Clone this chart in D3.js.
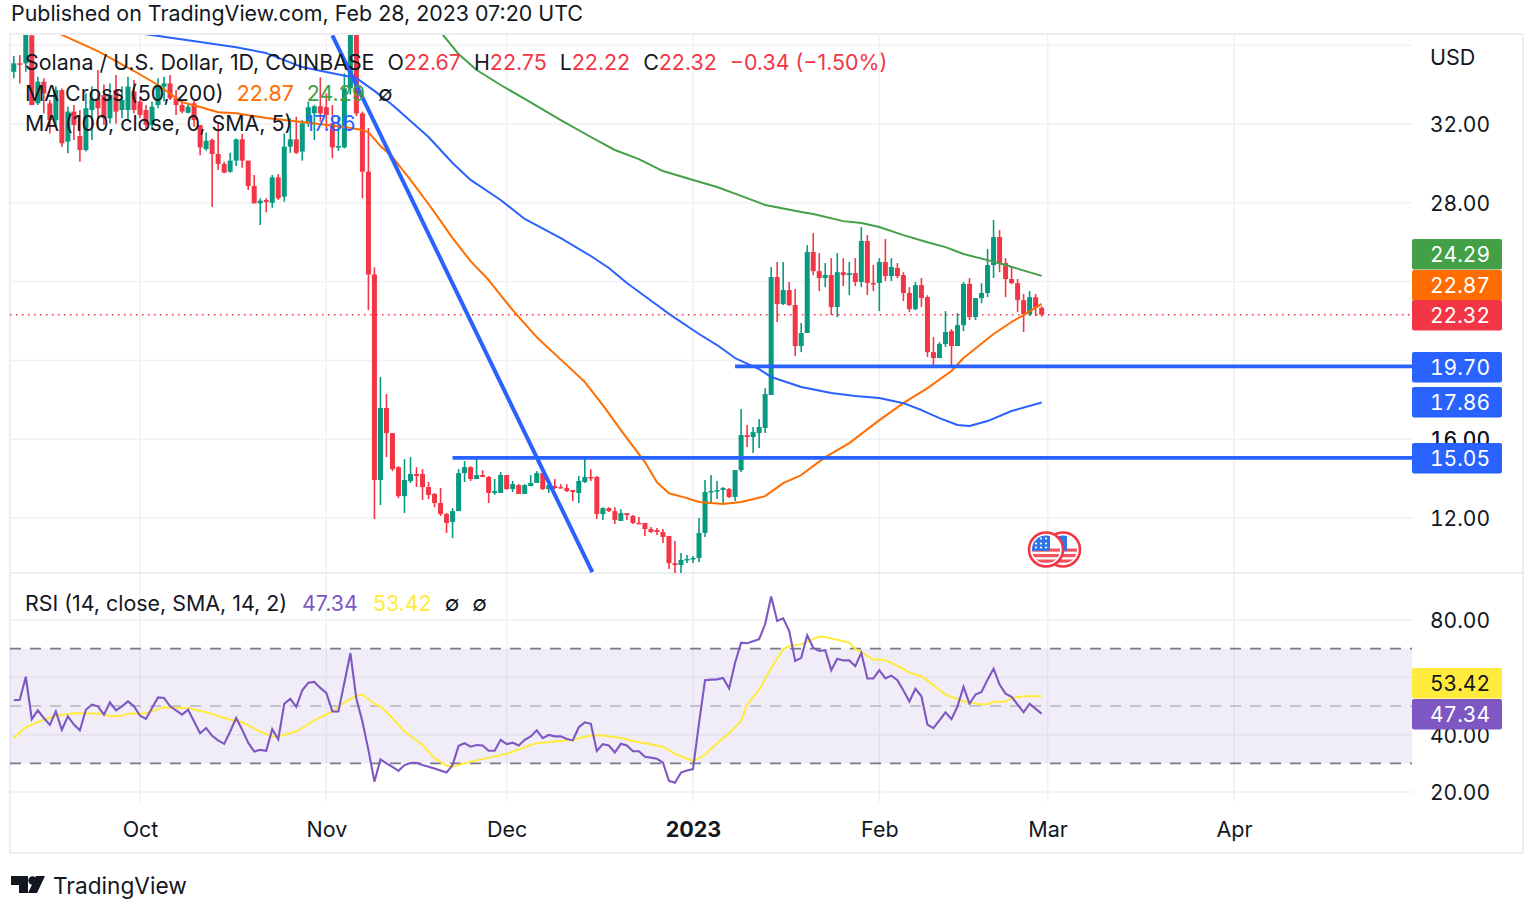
<!DOCTYPE html>
<html><head><meta charset="utf-8">
<script src="https://cdn.jsdelivr.net/npm/d3@7/dist/d3.min.js"></script>
<style>
html,body{margin:0;padding:0;background:#fff;overflow:hidden}
text{font-family:Inter,"Noto Sans",sans-serif}
.tnum{font-variant-numeric:tabular-nums}
</style></head><body>
<svg id="c" width="1536" height="904"></svg>
<script>
const firstDay = "2022-09-10";
const opens = [
34.65,35.08,35.08,36.5,33.05,34.15,33.05,32.2,33.72,31.1,32.63,31.39,30.68,32.71,33.3,33.47,32.29,33.72,32.71,32.71,33.65,
33.14,32.71,31.95,32.96,33.9,34.06,33.3,32.96,32.57,33.05,31.95,30.73,31.19,30.48,29.97,29.58,30.14,31.22,30.14,28.85,27.97,28.14,28.0,29.29,28.31,30.85,31.22,30.6,32.03,32.54,32.9,
32.85,32.03,30.81,30.81,33.81,36.6,32.54,29.58,24.36,13.93,17.58,16.31,14.58,13.11,13.88,14.23,14.23,13.57,13.22,12.76,12.2,11.8,12.35,14.28,14.58,13.98,14.18,14.08,13.27,13.27,
14.18,13.47,13.67,13.22,13.62,13.78,14.28,13.47,13.62,13.57,13.52,13.42,13.27,13.83,14.08,14.08,12.2,12.5,12.35,11.85,12.25,12.1,11.75,11.75,11.44,11.39,11.29,11.09,9.71,9.61,9.87,
9.92,9.97,11.24,13.32,13.37,13.42,13.47,13.07,14.43,16.21,16.11,16.31,16.57,18.24,24.23,22.86,23.57,22.81,20.73,21.39,25.5,24.53,24.18,24.33,22.71,24.48,24.33,24.43,23.98,26.06,23.93,
23.93,24.99,24.28,24.69,24.33,23.42,22.6,23.82,23.21,20.42,20.12,20.83,21.49,20.73,21.79,23.88,22.2,23.16,23.42,24.84,26.26,24.94,24.13,23.92,23.06,22.35,23.21,22.67];
const highs = [
35.45,35.5,37.1,37.1,34.4,34.32,33.22,33.9,33.8,32.88,32.96,32.71,33.55,33.9,34.74,34,34.06,34.49,33.9,34.4,34.23,
33.39,32.96,33.14,34.32,34.4,34.49,33.72,33.14,33.0,33.18,31.95,31.56,31.27,32.03,30.09,30.54,31.27,31.49,30.14,29.41,28.23,28.23,29.41,29.46,31.52,32.29,32.37,32.2,33.14,32.96,34.37,
33.55,32.96,32.37,34.57,37.5,37.5,32.63,31.8,24.72,19.15,18.29,16.31,14.63,14.99,15.09,14.58,14.48,13.83,13.27,13.52,12.25,12.5,14.48,14.89,14.63,14.99,14.43,14.13,13.98,14.33,
14.18,13.88,13.72,13.72,14.18,14.38,14.33,13.78,13.98,13.72,13.72,13.42,14.13,14.99,14.48,14.13,12.55,12.55,12.55,12.45,12.25,12.15,12.05,11.75,11.54,11.49,11.44,11.09,10.83,10.22,10.12,
10.07,12.0,13.93,14.18,13.88,13.57,13.52,14.43,17.53,16.72,16.62,17.02,18.59,24.74,24.99,24.99,23.98,23.62,21.9,25.85,26.46,25.45,24.94,25.19,25.45,25.19,24.99,25.19,26.77,26.36,24.84,
25.19,26.16,25.19,24.94,24.48,23.72,23.98,24.18,23.31,21.18,20.93,22.5,21.59,22.4,23.98,24.18,23.16,23.92,25.65,27.12,26.62,25.19,24.74,24.13,23.37,23.52,23.37,22.75];
const lows = [
34.32,34.06,34.65,32.96,32.96,32.54,31.52,31.86,30.85,30.51,31.19,30.09,30.6,31.19,31.86,31.95,32.03,32.03,32.29,32.2,32.54,
32.29,31.69,31.69,32.8,33.14,33.22,32.46,32.54,32.54,31.86,30.42,30.64,27.8,29.66,29.5,29.53,29.87,29.78,28.65,27.97,26.87,27.52,27.75,28.14,28.06,30.54,30.48,30.14,31.86,31.19,32.12,
31.69,30.26,30.64,30.76,33.5,32.4,28.23,22.55,11.95,12.66,15.09,14.38,13.01,12.25,13.78,13.57,12.91,12.96,12.55,12.1,11.24,10.98,12.35,13.83,13.88,13.98,14.08,12.76,13.17,13.27,
13.42,13.32,13.22,13.22,13.62,13.78,13.42,13.27,13.47,13.52,13.32,12.86,12.76,13.78,13.88,11.95,11.9,12.3,11.69,11.85,11.9,11.69,11.7,11.09,11.24,11.14,10.73,9.41,9.21,9.21,9.71,
9.71,9.76,11.04,12.71,12.96,12.76,13.01,12.86,14.33,15.6,15.3,15.55,16.31,18.24,21.95,22.81,22.76,20.22,20.42,21.39,24.33,23.52,23.72,22.3,22.2,23.77,23.32,23.77,23.72,23.32,23.52,
22.5,24.03,24.03,24.18,23.01,22.45,22.55,22.71,20.17,19.66,20.12,20.68,19.76,20.73,21.49,22.05,22.05,22.9,23.21,24.18,24.48,23.21,23.87,22.45,21.44,22.25,22.25,22.22];
const closes = [
35.08,35.01,36.6,32.96,34.15,33.55,32.2,33.72,31.02,32.63,31.95,30.68,32.8,33.3,32.8,32.29,33.47,32.63,33.22,33.9,32.71,
32.46,31.95,32.88,33.98,34.06,33.3,32.96,32.63,32.88,32.2,30.81,31.15,30.48,29.97,29.53,30.14,31.22,30.14,28.85,27.97,28.11,28.04,29.29,28.23,30.85,31.22,30.54,32.03,32.85,32.9,32.54,
32.46,30.81,30.88,33.81,37.2,32.54,29.58,24.36,13.93,17.58,16.31,14.48,13.11,13.93,14.23,14.13,13.57,13.17,12.76,12.2,11.75,12.35,14.28,14.58,13.98,14.18,14.08,13.27,13.37,14.18,
13.47,13.72,13.22,13.67,13.78,14.28,13.47,13.67,13.52,13.52,13.37,13.32,13.88,14.08,14.03,12.2,12.5,12.35,11.9,12.25,12.15,11.75,11.72,11.44,11.29,11.29,11.04,9.71,9.61,9.87,9.92,
9.97,11.24,13.32,13.37,13.42,13.52,13.07,14.43,16.21,16.11,16.36,16.62,18.29,24.23,22.86,23.57,22.81,20.73,21.39,25.5,24.53,24.18,24.33,22.71,24.48,24.33,24.43,23.98,26.06,23.93,23.88,
24.99,24.28,24.74,24.28,23.42,22.6,23.82,23.16,20.42,20.12,20.83,21.44,20.73,21.79,23.88,22.2,23.16,23.42,24.84,26.26,24.94,24.13,23.92,23.06,22.35,23.21,22.67,22.32];

const rsiValues = [
52.0,52.2,60.2,45.4,48.5,45.8,43.4,48.1,41.7,46.4,43.5,41.5,48.7,50.5,49.9,47.0,51.3,48.5,49.9,51.6,49.9,46.6,45.5,49.3,53.0,52.8,49.9,48.5,47.0,48.7,44.6,40.5,42.3,39.6,38.0,36.8,41.1,45.8,41.7,37.2,34.1,34.7,34.4,41.9,38.4,50.8,52.5,49.7,55.5,58.1,58.4,56.3,54.6,48.1,48.1,58.1,68.4,52.5,44.6,34.7,23.6,31.4,30.0,28.8,27.4,29.4,30.1,30.2,29.4,28.8,28.2,27.5,26.8,29.4,36.1,37.0,35.8,36.4,36.2,34.4,34.4,38.2,36.7,37.2,36.2,38.2,39.4,41.5,38.8,39.9,39.4,39.4,38.5,38.0,42.6,44.3,43.8,34.3,36.7,36.2,33.8,36.8,36.2,34.2,34.2,32.3,32.0,31.6,30.2,23.9,23.2,26.8,27.5,28.0,44.0,59.0,59.2,59.3,59.8,56.1,65.1,72.1,71.9,72.6,73.3,78.5,88.2,79.7,80.6,76.2,65.7,66.8,74.7,70.3,69.2,69.5,62.5,66.5,65.9,65.9,63.9,68.6,59.6,59.6,62.5,59.6,60.6,59.0,55.4,51.6,56.0,53.4,43.5,42.3,45.0,47.8,45.4,49.9,56.7,50.8,54.0,54.9,59.2,63.0,57.5,54.3,53.2,50.5,47.8,50.8,49.0,47.34];

const rsiMaDays = [0,2,3,5,7,10,12,15,16,18,19,22,25,27,29,32,36,38,41,43,44,47,50,53,55,57,58,60,61,63,65,68,70,72,73,76,82,86,87,90,93,96,98,101,103,108,110,113,115,117,119,121,122,124,126,128,129,131,134,135,139,140,141,143,145,148,149,151,155,158,161,162,163,165,166,168,171];
const rsiMaValues = [38.8,42.6,43.5,45.2,46.6,47.5,47.5,47.2,46.4,46.6,47.3,47.5,49.6,49.3,49.3,47.8,45.2,44.4,41.1,39.4,39.4,41.1,45.0,48.1,51.3,53.6,54.0,50.7,49.9,45.8,41.1,36.4,31.8,29.2,28.8,30.6,33.3,36.4,37.0,37.6,38.2,39.7,39.7,38.8,37.8,35.8,33.3,30.8,32.9,37.0,40.5,44.8,50.5,55.7,63.3,69.8,70.9,71.5,74.2,74.1,72.1,69.8,68.8,66.2,66.0,63.0,61.6,60.4,54.0,51.6,50.5,50.7,51.4,51.6,52.8,53.4,53.42];

const ma50Dates = ["2022-09-14","2022-09-18","2022-09-24","2022-09-30","2022-10-04","2022-10-08","2022-10-11","2022-10-14","2022-10-17","2022-10-22","2022-10-28","2022-11-04","2022-11-07","2022-11-08","2022-11-10","2022-11-12","2022-11-15","2022-11-18","2022-11-20","2022-11-22","2022-11-25","2022-11-28","2022-12-02","2022-12-06","2022-12-11","2022-12-14","2022-12-17","2022-12-20","2022-12-24","2022-12-26","2022-12-28","2022-12-31","2023-01-02","2023-01-06","2023-01-09","2023-01-13","2023-01-16","2023-01-19","2023-01-23","2023-01-27","2023-02-01","2023-02-05","2023-02-09","2023-02-13","2023-02-15","2023-02-20","2023-02-23","2023-02-25","2023-02-28"];
const ma50Values = [37.1,36.52,35.70,34.69,33.98,33.11,32.86,32.6,32.55,32.3,32.1,31.85,31.69,31.59,30.88,30.32,29.16,27.94,27.08,26.21,25.04,24.08,22.55,21.18,19.76,18.9,17.73,16.46,14.84,13.82,13.26,13.01,12.81,12.71,12.81,13.11,13.77,14.18,15.09,15.8,16.97,17.83,18.59,19.46,20.12,21.34,21.95,22.3,22.87];
const ma100Dates = ["2022-09-26","2022-10-02","2022-10-11","2022-10-17","2022-10-22","2022-10-28","2022-11-02","2022-11-06","2022-11-09","2022-11-12","2022-11-15","2022-11-18","2022-11-22","2022-11-25","2022-11-30","2022-12-04","2022-12-10","2022-12-15","2022-12-18","2022-12-21","2022-12-26","2022-12-28","2023-01-02","2023-01-05","2023-01-08","2023-01-12","2023-01-14","2023-01-19","2023-01-24","2023-01-28","2023-02-01","2023-02-05","2023-02-08","2023-02-11","2023-02-14","2023-02-16","2023-02-19","2023-02-23","2023-02-28"];
const ma100Values = [36.87,36.56,36.16,35.9,35.6,34.89,34.58,34.33,33.68,32.96,32.15,31.34,30.02,29.16,28.14,27.18,26.21,25.3,24.69,23.93,22.81,22.36,21.34,20.78,20.12,19.56,19.16,18.65,18.34,18.19,18.09,17.83,17.48,17.07,16.72,16.67,16.92,17.43,17.86];
const ma200Dates = ["2022-11-18","2022-11-20","2022-11-23","2022-11-26","2022-11-30","2022-12-04","2022-12-10","2022-12-15","2022-12-19","2022-12-23","2022-12-27","2023-01-01","2023-01-05","2023-01-09","2023-01-13","2023-01-19","2023-01-21","2023-01-26","2023-01-29","2023-02-01","2023-02-05","2023-02-09","2023-02-12","2023-02-15","2023-02-19","2023-02-22","2023-02-28"];
const ma200Values = [37.4,36.67,35.55,34.74,33.98,33.27,32.2,31.34,30.68,30.22,29.61,29.16,28.8,28.35,27.89,27.53,27.43,27.07,26.97,26.77,26.36,26.0,25.75,25.4,25.09,24.84,24.29];

const trendDates = ["2022-11-02T00:00Z","2022-12-15T06:00Z"];
const trendPrices = [36.5,9.25];
const supportLevels = [19.70,15.05];
const supportStarts = ["2023-01-08","2022-11-22"];
const lastClose = 22.32;

const priceTicks = [12,16,20,24,28,32,36];
const priceLabels = [12,16,28,32];
const rsiTicks = [20,40,60,80];
const rsiLabels = [20,40,80];
const timeTicks = [["2022-10-01","Oct"],["2022-11-01","Nov"],["2022-12-01","Dec"],["2023-01-01","2023"],["2023-02-01","Feb"],["2023-03-01","Mar"],["2023-04-01","Apr"]];
const priceBadges = [["24.29","#43a047",24.29,254],["22.87","#ff6d00",22.87,285],["22.32","#f23645",22.32,315],["19.70","#2962ff",19.70,367],["17.86","#2962ff",17.86,402],["15.05","#2962ff",15.05,458]];
const rsiBadges = [["53.42","#ffeb3b","#131722",683],["47.34","#7e57c2","#fff",714]];

const parse = s => new Date(s.length===10 ? s+"T00:00:00Z" : s);
const svg = d3.select("#c");
const L=10,R=1412,E=1523,T=35,M=573,B=853;
const x = d3.scaleUtc().domain([parse("2022-10-01"),parse("2023-04-01")]).range([140,1234]);
const y = d3.scaleLinear().domain([12,32]).range([518,124]);
const yr = d3.scaleLinear().domain([20,80]).range([792,620]);
const dayAt = i => d3.utcDay.offset(parse(firstDay),i);
const grid="#f0f1f5";

const defs = svg.append("defs");
defs.append("clipPath").attr("id","mainClip").append("rect").attr("x",L).attr("y",T).attr("width",R-L).attr("height",M-T);

// frame and grid
svg.append("g").selectAll("line").data(timeTicks).join("line")
  .attr("x1",d=>x(parse(d[0]))).attr("x2",d=>x(parse(d[0]))).attr("y1",T).attr("y2",802).attr("stroke",grid).attr("stroke-width",1.5);
svg.append("g").selectAll("line").data(priceTicks).join("line")
  .attr("x1",L).attr("x2",R).attr("y1",d=>y(d)).attr("y2",d=>y(d)).attr("stroke",grid).attr("stroke-width",1.5);
svg.append("g").selectAll("line").data(rsiTicks).join("line")
  .attr("x1",L).attr("x2",R).attr("y1",d=>yr(d)).attr("y2",d=>yr(d)).attr("stroke",grid).attr("stroke-width",1.5);
const frame="#e6e8ef";
[[L,T-1,E,T-1],[L,M,E,M],[L,B,E,B],[L,T-1,L,B],[E,T-1,E,B]].forEach(a=>svg.append("line").attr("x1",a[0]).attr("y1",a[1]).attr("x2",a[2]).attr("y2",a[3]).attr("stroke",frame).attr("stroke-width",1.5));

// RSI band
svg.append("rect").attr("x",L).attr("width",R-L).attr("y",yr(70)).attr("height",yr(30)-yr(70)).attr("fill","#7e57c2").attr("fill-opacity",0.11);
[[70,"#787b86"],[50,"#b2b5be"],[30,"#787b86"]].forEach(a=>svg.append("line").attr("x1",L).attr("x2",R).attr("y1",yr(a[0])).attr("y2",yr(a[0])).attr("stroke",a[1]).attr("stroke-width",1.6).attr("stroke-dasharray","11 9"));

// candles
const idx = d3.range(closes.length);
const main = svg.append("g").attr("clip-path","url(#mainClip)");
const col = i => closes[i]>=opens[i] ? "#089981" : "#f23645";
main.append("line").attr("x1",L).attr("x2",R).attr("y1",y(lastClose)).attr("y2",y(lastClose)).attr("stroke","#f23645").attr("stroke-width",1.4).attr("stroke-dasharray","1.5 4.5");
const cg = main.append("g");
cg.selectAll("line").data(idx).join("line")
  .attr("x1",i=>x(dayAt(i))).attr("x2",i=>x(dayAt(i))).attr("y1",i=>y(highs[i])).attr("y2",i=>y(lows[i])).attr("stroke",col).attr("stroke-width",1.6);
cg.selectAll("rect").data(idx).join("rect")
  .attr("x",i=>x(dayAt(i))-2.5).attr("width",5)
  .attr("y",i=>y(Math.max(opens[i],closes[i])))
  .attr("height",i=>Math.max(1.5,Math.abs(y(opens[i])-y(closes[i])))).attr("fill",col);

// moving averages
const ln = d3.line().x(d=>x(d[0])).y(d=>y(d[1]));
const series=(ds,vs)=>ds.map((d,i)=>[parse(d),vs[i]]);
[[ma200Dates,ma200Values,"#43a047"],[ma50Dates,ma50Values,"#ff6d00"],[ma100Dates,ma100Values,"#2962ff"]].forEach(a=>
  main.append("path").attr("d",ln(series(a[0],a[1]))).attr("fill","none").attr("stroke",a[2]).attr("stroke-width",2).attr("stroke-linejoin","round"));

// drawings
main.append("path").attr("d",ln(series(trendDates,trendPrices))).attr("fill","none").attr("stroke","#2962ff").attr("stroke-width",4);
supportLevels.forEach((p,i)=>main.append("line").attr("x1",x(parse(supportStarts[i]))).attr("x2",R).attr("y1",y(p)).attr("y2",y(p)).attr("stroke","#2962ff").attr("stroke-width",3.8));

// RSI lines
const rl = d3.line().x(d=>x(d[0])).y(d=>yr(d[1]));
svg.append("path").attr("d",rl(rsiMaDays.map((d,i)=>[dayAt(d),rsiMaValues[i]]))).attr("fill","none").attr("stroke","#ffeb3b").attr("stroke-width",2);
svg.append("path").attr("d",rl(rsiValues.map((v,i)=>[dayAt(i),v]))).attr("fill","none").attr("stroke","#7e57c2").attr("stroke-width",2.1);

// axes
const clean = g=>{g.select(".domain").remove();g.selectAll(".tick line").remove();};
const fs=21.5, fn=21;
const axY=svg.append("g").attr("transform","translate(1490,0)").call(d3.axisLeft(y).tickValues(priceLabels).tickFormat(d3.format(".2f")).tickSize(0).tickPadding(0)).call(clean);
const axR=svg.append("g").attr("transform","translate(1490,0)").call(d3.axisLeft(yr).tickValues(rsiLabels).tickFormat(d3.format(".2f")).tickSize(0).tickPadding(0)).call(clean);
const axX=svg.append("g").attr("transform","translate(0,816)").call(d3.axisBottom(x).tickValues(timeTicks.map(d=>parse(d[0]))).tickFormat((d,i)=>timeTicks[i][1]).tickSize(0).tickPadding(0)).call(clean);
[axY,axR,axX].forEach(g=>g.attr("font-size",null).attr("font-family",null).selectAll("text").attr("fill","#131722"));
[axY,axR].forEach(g=>g.selectAll("text").attr("dy","0.37em").attr("font-size",fn).attr("class","tnum"));
axX.selectAll("text").attr("font-size",fs).attr("dy",null).attr("y",21).attr("font-weight",(d,i)=>timeTicks[i][1]==="2023"?700:400);
svg.append("text").attr("x",1430).attr("y",65).attr("font-size",fs).attr("fill","#131722").text("USD");

// badges
const badge=(t,fill,fg,cy)=>{
  svg.append("rect").attr("x",1412).attr("y",cy-15).attr("width",90).attr("height",30.5).attr("rx",2).attr("fill",fill);
  svg.append("text").attr("class","tnum").attr("x",1490).attr("y",cy+7.5).attr("text-anchor","end").attr("font-size",fn).attr("fill",fg).text(t);
};
// 16.00 sits under the 15.05 badge
svg.append("text").attr("class","tnum").attr("x",1490).attr("y",y(16)+8).attr("text-anchor","end").attr("font-size",fn).attr("fill","#131722").text("16.00");
priceBadges.forEach(b=>badge(b[0],b[1],"#fff",b[3]));
rsiBadges.forEach(b=>badge(b[0],b[1],b[2],b[3]));

// legend text
const legend=(yy,parts)=>{
  const t=svg.append("text").attr("x",25).attr("y",yy).attr("font-size",21.4);
  parts.forEach(p=>t.append("tspan").attr("fill",p[1]).attr("dx",p[2]||0).text(p[0]));
};
legend(70,[["Solana / U.S. Dollar, 1D, COINBASE","#131722"],["O","#131722",13],["22.67","#f23645"],["H","#131722",13],["22.75","#f23645"],["L","#131722",13],["22.22","#f23645"],["C","#131722",13],["22.32","#f23645"],["−0.34 (−1.50%)","#f23645",13]]);
legend(101,[["MA Cross (50, 200)","#131722"],["22.87","#ff6d00",13],["24.29","#43a047",13],["∅","#131722",13]]);
legend(131,[["MA (100, close, 0, SMA, 5)","#131722"],["17.86","#2962ff",13]]);
legend(611,[["RSI (14, close, SMA, 14, 2)","#131722"],["47.34","#7e57c2",15],["53.42","#ffeb3b",15],["∅","#131722",13],["∅","#131722",13]]);

svg.append("text").attr("x",11).attr("y",21).attr("font-size",21.42).attr("fill","#131722").text("Published on TradingView.com, Feb 28, 2023 07:20 UTC");

// footer logo
svg.append("path").attr("d","M11 876H28V893H19V885H11Z M45 876L37 893H28L36 876Z").attr("fill","#131722");
svg.append("circle").attr("cx",32.5).attr("cy",880.5).attr("r",4.2).attr("fill","#131722");
svg.append("text").attr("x",53).attr("y",894).attr("font-size",22.7).attr("fill","#131722").text("TradingView");

// event flag
const flag=(cx,id)=>{
  defs.append("clipPath").attr("id",id).append("circle").attr("cx",cx).attr("cy",549.5).attr("r",14);
  const g=svg.append("g");
  g.append("circle").attr("cx",cx).attr("cy",549.5).attr("r",17).attr("fill","#fff").attr("stroke","#f23645").attr("stroke-width",2.6);
  const inner=g.append("g").attr("clip-path",`url(#${id})`);
  [-1,4.5,10].forEach(d=>inner.append("rect").attr("x",cx-15).attr("y",549.5+d).attr("width",30).attr("height",3.2).attr("fill","#f23645").attr("fill-opacity",0.85));
  inner.append("rect").attr("x",cx-15).attr("y",534).attr("width",19).attr("height",17).attr("fill","#2f74e8");
  if(id==="front") d3.cross([-10,-5,0],[-11,-6,-2]).forEach(p=>inner.append("circle").attr("cx",cx+p[0]).attr("cy",549.5+p[1]).attr("r",1.1).attr("fill","#fff"));
  return g;
};
flag(1063,"back");
flag(1046,"front");
</script>
</body></html>
